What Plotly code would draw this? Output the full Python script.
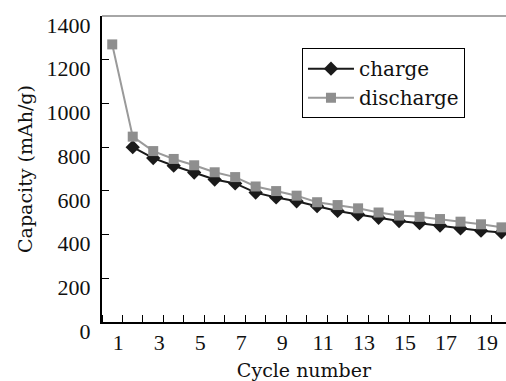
import plotly.graph_objects as go

cycles_charge = list(range(2, 21))
charge = [800, 750, 715, 684, 652, 634, 592, 570, 552, 530, 508, 492, 477, 462, 452, 441, 428, 418, 410]
cycles_discharge = list(range(1, 21))
discharge = [1270, 848, 782, 746, 717, 685, 663, 620, 599, 578, 548, 535, 520, 501, 487, 481, 471, 459, 447, 433]

x_tickvals = list(range(1, 20, 2))
x_ticktext = [str(v) for v in x_tickvals]
y_tickvals = list(range(0, 1401, 200))
y_ticktext = [str(v) for v in y_tickvals]

num_font = "Liberation Serif"
txt_font = "DejaVu Serif"

fig = go.Figure()
fig.add_trace(go.Scatter(
    x=cycles_charge, y=charge, name="charge", mode="lines+markers",
    line=dict(color="#1a1a1a", width=2),
    marker=dict(symbol="diamond", size=11, color="#1a1a1a"),
))
fig.add_trace(go.Scatter(
    x=cycles_discharge, y=discharge, name="discharge", mode="lines+markers",
    line=dict(color="#9a9a9a", width=2),
    marker=dict(symbol="square", size=10, color="#8e8e8e"),
))

fig.update_layout(
    template="none",
    width=506, height=381,
    margin=dict(l=102, r=0, t=16, b=59, autoexpand=False),
    paper_bgcolor="white", plot_bgcolor="white",
    showlegend=True,
    legend=dict(
        x=0.495, y=0.895, xanchor="left", yanchor="top",
        bordercolor="black", borderwidth=1, bgcolor="white",
        font=dict(family=txt_font, size=20, color="#111"),
        tracegroupgap=0, itemwidth=46,
    ),
    xaxis=dict(
        automargin=False,
        range=[0.5, 20.22], showgrid=False, zeroline=False,
        showline=True, linecolor="black", linewidth=2,
        tickmode="array", tickvals=x_tickvals, ticktext=x_ticktext,
        ticks="", ticklabelshift=6, ticklabelstandoff=0,
        tickfont=dict(family=num_font, size=22, color="#111"),
        minor=dict(ticks="inside", tick0=0.5, dtick=1, ticklen=7, tickwidth=1, tickcolor="black", showgrid=False),
        title=dict(text="Cycle number", font=dict(family=txt_font, size=19, color="#111"), standoff=25),
    ),
    yaxis=dict(
        automargin=False,
        range=[0, 1400], showgrid=False, zeroline=False,
        showline=True, linecolor="black", linewidth=2,
        tickmode="array", tickvals=y_tickvals, ticktext=y_ticktext,
        ticks="inside", ticklen=7, tickwidth=1, tickcolor="black",
        ticklabelshift=9, ticklabelstandoff=5,
        tickfont=dict(family=num_font, size=22, color="#111"),
        title=dict(text="Capacity (mAh/g)", font=dict(family=txt_font, size=19, color="#111"), standoff=9),
    ),
    shapes=[dict(type="line", xref="paper", yref="paper", x0=0, x1=1, y0=1, y1=1,
                 line=dict(color="#888888", width=1.5))],
)

fig.write_html("out.html", config={"displayModeBar": False, "staticPlot": True},
               post_script="document.body.style.margin='0';document.body.style.overflow='hidden';")
